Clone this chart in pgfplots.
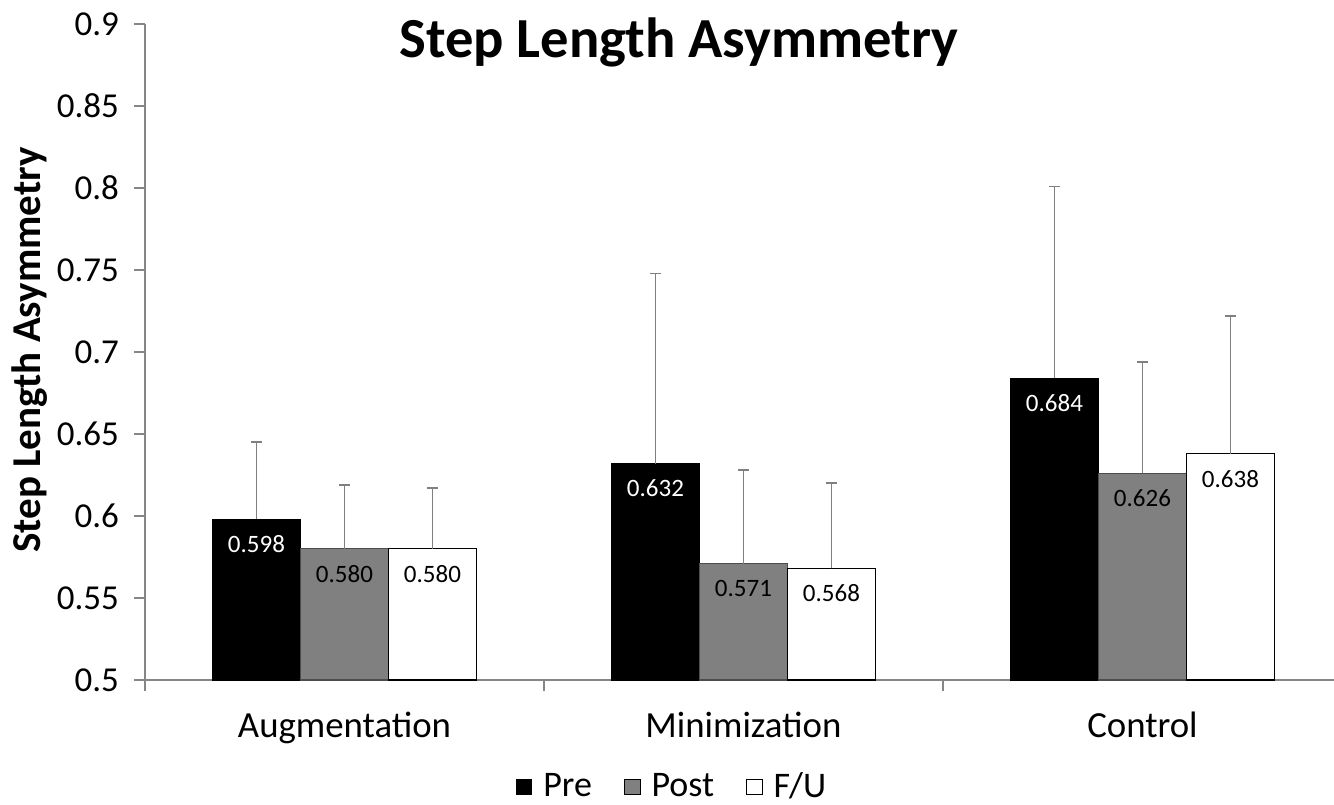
\documentclass[border=0pt]{standalone}
\usepackage{pgfplots}
\pgfplotsset{compat=1.18}
\usepackage{fontspec}
\setmainfont{Carlito}
\definecolor{axgray}{HTML}{868686}
\definecolor{postgray}{HTML}{808080}
\begin{document}
\begin{tikzpicture}
\useasboundingbox (-72.5pt,-62pt) rectangle (594.5pt,340pt);
\begin{axis}[
  at={(0,0)}, anchor=south west,
  scale only axis, width=594.5pt, height=328pt,
  xmin=-0.5, xmax=2.48, ymin=0.5, ymax=0.9,
  axis lines=left,
  axis line style={draw=axgray, line width=0.6pt, -},
  /pgf/number format/assume math mode=true,
  ytick={0.5,0.55,0.6,0.65,0.7,0.75,0.8,0.85,0.9},
  yticklabel style={/pgf/number format/fixed, /pgf/number format/precision=2,
    font=\fontsize{17.5}{20}\selectfont, xshift=-4pt},
  xtick={0,1,2},
  xticklabels={Augmentation,Minimization,Control},
  xticklabel style={font=\fontsize{18.4}{21}\selectfont, yshift=-7pt},
  minor xtick={-0.5,0.5,1.5},
  tick align=outside,
  major tick length=5.5pt,
  minor tick length=5.5pt,
  x tick style={draw=none},
  minor x tick style={draw=axgray, line width=0.6pt},
  y tick style={draw=axgray, line width=0.6pt},
  ybar, bar width=44pt,
  error bars/y dir=plus, error bars/y explicit,
  error bars/error bar style={draw=postgray, line width=0.75pt},
  error bars/error mark options={draw=postgray, line width=0.75pt, mark size=2.7pt, rotate=90},
  nodes near coords={\pgfmathprintnumber[fixed,zerofill,precision=3]{\pgfplotspointmeta}},
  every node near coord/.append style={font=\fontsize{12.5}{14}\selectfont, anchor=center, yshift=-12.5pt},
  legend columns=3,
  legend style={at={(axis description cs:0.444,-0.163)}, anchor=center, draw=none,
    font=\fontsize{18}{21}\selectfont,
    /tikz/every odd column/.append style={column sep=3.5pt},
    /tikz/every even column/.append style={column sep=14pt}},
  legend image code/.code={\draw[#1,draw=black,line width=0.5pt] (0pt,-3.9pt) rectangle (7.8pt,3.9pt);},
  clip=false,
]
\addplot[fill=black, draw=black, line width=0.6pt, bar shift=-44pt,
  every node near coord/.append style={text=white}]
  coordinates {(0,0.598) +- (0,0.047) (1,0.632) +- (0,0.116) (2,0.684) +- (0,0.117)};
\addplot[fill=postgray, draw=black!70, line width=0.6pt, bar shift=0pt,
  every node near coord/.append style={text=black}]
  coordinates {(0,0.580) +- (0,0.039) (1,0.571) +- (0,0.057) (2,0.626) +- (0,0.068)};
\addplot[fill=white, draw=black, line width=0.6pt, bar shift=44pt,
  every node near coord/.append style={text=black}]
  coordinates {(0,0.580) +- (0,0.037) (1,0.568) +- (0,0.052) (2,0.638) +- (0,0.084)};
\legend{Pre,Post,F/U}
\node[font=\bfseries\fontsize{28.3}{32}\selectfont] at (axis description cs:0.449,0.9726) {Step Length Asymmetry};
\node[font=\bfseries\fontsize{20.5}{24}\selectfont, rotate=90] at (axis description cs:-0.0967,0.503) {Step Length Asymmetry};
\end{axis}
\end{tikzpicture}
\end{document}
